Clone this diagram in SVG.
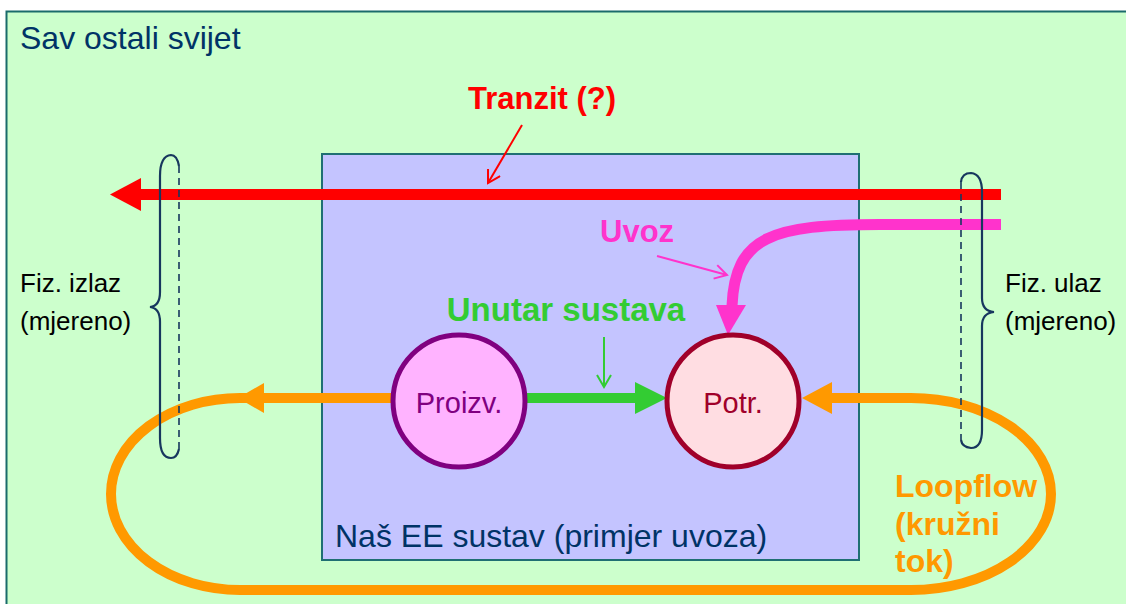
<svg xmlns="http://www.w3.org/2000/svg" width="1126" height="604" viewBox="0 0 1126 604">
<style>
.lbl{font-family:"Liberation Sans",Arial,sans-serif;}
.b{font-weight:bold;}
.brace{fill:none;stroke:#17375E;stroke-width:2.2;}
.dash{fill:none;stroke:#17375E;stroke-width:1.6;stroke-dasharray:7,5;}
.ptr{fill:none;stroke-width:2;}
</style>
<defs>
<marker id="mRed" markerWidth="16" markerHeight="16" refX="14" refY="8" orient="auto" markerUnits="userSpaceOnUse"><polyline points="2,1 14,8 2,15" fill="none" stroke="#FF0000" stroke-width="2"/></marker>
<marker id="mMag" markerWidth="16" markerHeight="16" refX="14" refY="8" orient="auto" markerUnits="userSpaceOnUse"><polyline points="2,1 14,8 2,15" fill="none" stroke="#FF33CC" stroke-width="2"/></marker>
<marker id="mGrn" markerWidth="16" markerHeight="16" refX="14" refY="8" orient="auto" markerUnits="userSpaceOnUse"><polyline points="2,1 14,8 2,15" fill="none" stroke="#33CC33" stroke-width="2"/></marker>
</defs>
<rect width="1126" height="604" fill="#FFFFFF"/>
<g id="world">
<rect x="6.5" y="11.5" width="1130" height="600" fill="#CCFFCC" stroke="#1A6B6B" stroke-width="2"/>
<text class="lbl" x="20" y="49" font-size="32" fill="#003366">Sav ostali svijet</text>
</g>
<g id="system">
<rect x="322" y="154" width="537" height="406" fill="#C4C4FF" stroke="#1F6F73" stroke-width="2"/>
<text class="lbl" x="335" y="547" font-size="32" fill="#003366">Naš EE sustav (primjer uvoza)</text>
</g>
<g id="connectors">
<line x1="1001" y1="194.5" x2="140" y2="194.5" stroke="#FF0000" stroke-width="11"/>
<polygon points="110,194.5 141,178 141,211" fill="#FF0000"/>
<path d="M1001,224.5 H880 C772,224.5 735,236 732,306" fill="none" stroke="#FF33CC" stroke-width="11"/>
<polygon points="728,335 716,305 746,305" fill="#FF33CC"/>
<line x1="526" y1="398" x2="637" y2="398" stroke="#33CC33" stroke-width="10"/>
<polygon points="667,398 635,382 635,414" fill="#33CC33"/>
<path d="M392,398 H240 A129,96 0 0 0 240,590 H911 A140,96 0 0 0 911,398 H830" fill="none" stroke="#FF9900" stroke-width="10"/>
<polygon points="238,398 264,383 264,413" fill="#FF9900"/>
<polygon points="802,398 832,382 832,414" fill="#FF9900"/>
<line class="ptr" x1="522" y1="125" x2="488" y2="183" stroke="#FF0000" marker-end="url(#mRed)"/>
<line class="ptr" x1="657" y1="256" x2="727" y2="275" stroke="#FF33CC" marker-end="url(#mMag)"/>
<line class="ptr" x1="604" y1="337" x2="604" y2="387" stroke="#33CC33" marker-end="url(#mGrn)"/>
</g>
<g id="proizv">
<circle cx="459" cy="401" r="66" fill="#FFB3FF" stroke="#800080" stroke-width="5"/>
<text class="lbl" x="459" y="413" font-size="29" fill="#800080" text-anchor="middle">Proizv.</text>
</g>
<g id="potr">
<circle cx="733" cy="401" r="66" fill="#FFDDE2" stroke="#A0002A" stroke-width="5"/>
<text class="lbl" x="733" y="413" font-size="29" fill="#A0002A" text-anchor="middle">Potr.</text>
</g>
<g id="labels">
<text class="lbl b" x="542" y="109" font-size="31" fill="#FF0000" text-anchor="middle">Tranzit (?)</text>
<text class="lbl b" x="600" y="242" font-size="31" fill="#FF33CC">Uvoz</text>
<text class="lbl b" x="566" y="321" font-size="33" fill="#33CC33" text-anchor="middle">Unutar sustava</text>
<text class="lbl b" font-size="32" fill="#FF9900"><tspan x="895" y="497">Loopflow</tspan><tspan x="895" y="535">(kružni</tspan><tspan x="895" y="572">tok)</tspan></text>
</g>
<g id="out-brace">
<path class="dash" d="M179,166 V450"/>
<path class="brace" d="M179,166 Q177,155 171,155 Q160,156 160,176 L160,292 Q160,306 150,307 Q160,308 160,322 L160,438 Q160,458 171,458 Q177,458 179,449"/>
<text class="lbl" font-size="26" fill="#000000"><tspan x="20" y="292">Fiz. izlaz</tspan><tspan x="20" y="330">(mjereno)</tspan></text>
</g>
<g id="in-brace">
<path class="dash" d="M961,182 V440"/>
<path class="brace" d="M961,182 Q962,173 971,173 Q982,174 982,192 L982,298 Q982,311 994,312 Q982,313 982,326 L982,430 Q982,448 971,448 Q962,447 961,440"/>
<text class="lbl" font-size="26" fill="#000000"><tspan x="1005" y="292">Fiz. ulaz</tspan><tspan x="1005" y="330">(mjereno)</tspan></text>
</g>
</svg>
